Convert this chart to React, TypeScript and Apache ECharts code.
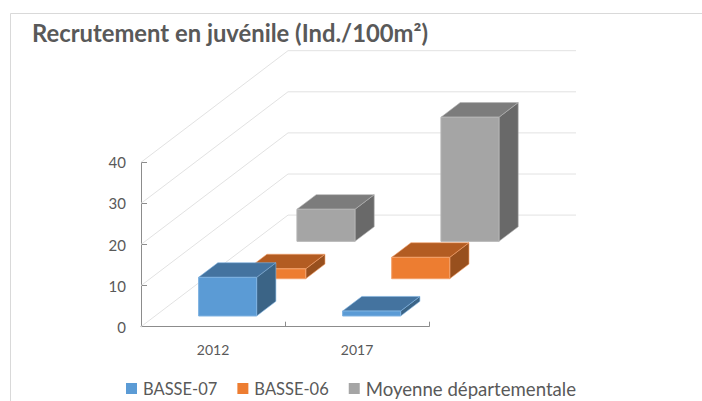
import React, { useEffect, useRef } from "react";
import * as echarts from "echarts";

const categories = ["2012", "2017"];
const yTicks = [0, 10, 20, 30, 40];
const basse07 = [9.4, 1.2];
const basse06 = [2.4, 5.2];
const moyenne = [7.8, 30.2];

const FONT = "Lato";
const TEXT = "#595959";
const DEPTH_X = 147;
const DEPTH_Y = 111.6;
const BAR_DEPTH = 0.131;
const BAR_WIDTH = 0.403;

function barSeries(name: string, values: number[], row: number, colors: string[], z: number) {
  const [front, top, side, edge] = colors;
  return {
    name,
    type: "custom",
    z,
    clip: false,
    itemStyle: { color: front },
    encode: { x: 0, y: 1 },
    data: values.map((v, i) => [i, v]),
    renderItem: (_: any, api: any) => {
      const base = api.coord([api.value(0), 0]);
      const tip = api.coord([api.value(0), api.value(1)]);
      const w = api.size([1, 0])[0] * BAR_WIDTH;
      const sx = row * DEPTH_X;
      const sy = row * DEPTH_Y;
      const dx = BAR_DEPTH * DEPTH_X;
      const dy = BAR_DEPTH * DEPTH_Y;
      const l = base[0] - w / 2 + sx + 0.5;
      const r = l + w;
      const b = base[1] - sy;
      const t = tip[1] - sy;
      return {
        type: "group",
        children: [
          { type: "polygon", shape: { points: [[r, t], [r + dx, t - dy], [r + dx, b - dy], [r, b]] }, style: { fill: side, stroke: edge, lineWidth: 0.6 } },
          { type: "polygon", shape: { points: [[l, t], [l + dx, t - dy], [r + dx, t - dy], [r, t]] }, style: { fill: top, stroke: edge, lineWidth: 0.6 } },
          { type: "polygon", shape: { points: [[l, t], [r, t], [r, b], [l, b]] }, style: { fill: front, stroke: edge, lineWidth: 1 } },
        ],
      };
    },
  };
}

export default function App() {
  const ref = useRef<HTMLDivElement>(null);
  useEffect(() => {
    document.body.style.margin = "0";
    const chart = echarts.init(ref.current!, undefined, { renderer: "svg" });
    chart.setOption({
      animation: false,
      backgroundColor: "#fff",
      title: {
        text: "Recrutement en juvénile (Ind./100m²)",
        left: 32,
        top: 21,
        padding: 0,
        textStyle: { fontFamily: FONT, fontSize: 23.8, fontWeight: "bold", color: TEXT },
      },
      legend: {
        left: 126,
        top: 379,
        padding: 0,
        icon: "rect",
        itemWidth: 11,
        itemHeight: 11,
        itemGap: 20,
        data: [
          { name: "BASSE-07" },
          { name: "BASSE-06" },
          { name: "Moyenne départementale", textStyle: { fontSize: 18.6 } },
        ],
        textStyle: { fontFamily: FONT, fontSize: 16.5, color: TEXT, padding: [0, 0, 0, 1] },
      },
      grid: { left: 141, right: 273, top: 162.3, bottom: 74.3 },
      xAxis: {
        type: "category",
        data: categories,
        axisLine: { lineStyle: { color: "#8c8c8c", width: 1 } },
        axisTick: { show: true, inside: true, length: 5, lineStyle: { color: "#8c8c8c" } },
        axisLabel: { fontFamily: FONT, fontSize: 14, color: TEXT, margin: 16 },
      },
      yAxis: {
        type: "value",
        min: 0,
        max: 40,
        interval: 10,
        axisLine: { show: true, lineStyle: { color: "#8c8c8c", width: 1 } },
        axisTick: { show: true, inside: true, length: 6, lineStyle: { color: "#8c8c8c" } },
        splitLine: { show: false },
        axisLabel: { fontFamily: FONT, fontSize: 15, color: TEXT, margin: 15 },
      },
      graphic: [
        { type: "line", shape: { x1: 10.5, y1: 13.5, x2: 702, y2: 13.5 }, style: { stroke: "#d9d9d9", lineWidth: 1 }, silent: true },
        { type: "line", shape: { x1: 10.5, y1: 13.5, x2: 10.5, y2: 401 }, style: { stroke: "#d9d9d9", lineWidth: 1 }, silent: true },
      ],
      series: [
        {
          type: "custom",
          z: 1,
          clip: false,
          silent: true,
          encode: { y: 0 },
          data: yTicks.map((v) => [v]),
          renderItem: (_: any, api: any) => {
            const c = api.coord([0, api.value(0)]);
            const catW = api.size([1, 0])[0];
            const x0 = c[0] - catW / 2;
            const y0 = c[1];
            return {
              type: "polyline",
              shape: {
                points: [
                  [x0, y0],
                  [x0 + DEPTH_X, y0 - DEPTH_Y],
                  [x0 + DEPTH_X + catW * categories.length, y0 - DEPTH_Y],
                ],
              },
              style: { fill: "none", stroke: "#e2e2e2", lineWidth: 1 },
            };
          },
        },
        barSeries("Moyenne départementale", moyenne, 0.765, ["#a5a5a5", "#7c7c7c", "#696969", "#b4b4b4"], 3),
        barSeries("BASSE-06", basse06, 0.43, ["#ed7d31", "#b35c22", "#98501e", "#f3a06a"], 4),
        barSeries("BASSE-07", basse07, 0.096, ["#5b9bd5", "#44739f", "#3b6486", "#7eb2e0"], 5),
      ],
    });
    return () => chart.dispose();
  }, []);
  return <div ref={ref} style={{ position: "absolute", left: 0, top: 0, width: 702, height: 401 }} />;
}
